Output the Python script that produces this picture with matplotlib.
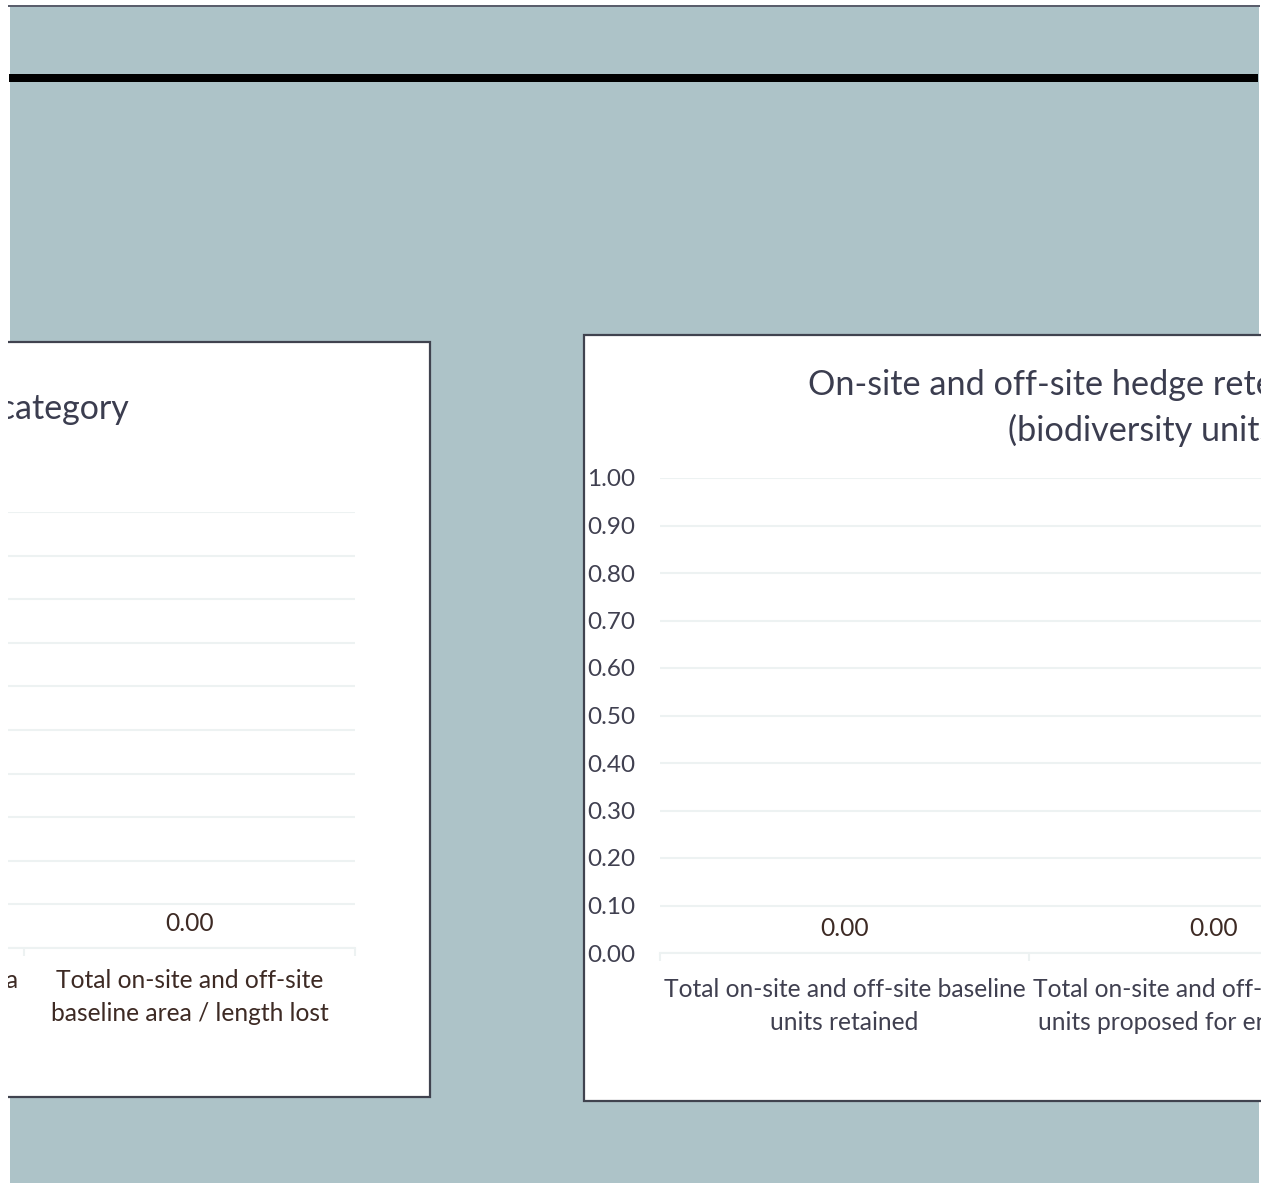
import numpy as np
import matplotlib as mpl
mpl.use('Agg')
import matplotlib.pyplot as plt
from matplotlib.patches import Rectangle

# figure size in pixels
W, H = 1273, 1183

# left chart (only the right part is visible)
left_cats = ['Total on-site and off-site area\nretained', 'Total on-site and off-site\nbaseline area / length lost']
left_vals = [0.0, 0.0]
left_title = 'Baseline by category'

# right chart (only the left part is visible)
right_cats = ['Total on-site and off-site baseline\nunits retained',
              'Total on-site and off-site baseline\nunits proposed for enhancement']
right_vals = [0.0, 0.0]
right_title = ['On-site and off-site hedge retention', '(biodiversity units)']

y_ticks = [0.0, 0.1, 0.2, 0.3, 0.4, 0.5, 0.6, 0.7, 0.8, 0.9, 1.0]

plt.rcParams['font.family'] = ['Lato', 'DejaVu Sans']

bg = '#adc3c8'
frame = '#40434f'
grid_col = '#edf2f2'
tick_col = '#404050'
brown = '#3d2a24'

fig = plt.figure(figsize=(W / 100, H / 100), dpi=100)
fig.patch.set_facecolor('white')


def fx(x):
    return x / W


def fy(y):
    return 1 - y / H


def rect(x0, y0, x1, y1, **kw):
    r = Rectangle((fx(x0), fy(y1)), fx(x1) - fx(x0), fy(y0) - fy(y1),
                  transform=fig.transFigure, **kw)
    fig.patches.append(r)


def axes_px(x0, y0, x1, y1):
    return fig.add_axes([fx(x0), fy(y1), fx(x1) - fx(x0), fy(y0) - fy(y1)])


# sheet background
rect(10, 6, 1259, H + 5, facecolor=bg, edgecolor='none', zorder=-5)
rect(8, 4.5, 1260, 6.5, facecolor='#5a5e6c', edgecolor='none', zorder=-4)
rect(9, 74, 1258, 82, facecolor='black', edgecolor='none', zorder=-4)

# chart boxes
rect(-20, 342, 430, 1097, facecolor='white', edgecolor=frame, lw=1.6, zorder=-3)
rect(584, 335, 1300, 1101, facecolor='white', edgecolor=frame, lw=1.6, zorder=-3)


def style_axes(ax, cats, vals, label_col, tick_pad):
    n = len(cats)
    x = np.arange(n)
    ax.bar(x, vals, 0.6, color='#5b9bd5')
    ax.set_xlim(-0.5, n - 0.5)
    ax.set_ylim(0, 1)
    ax.set_facecolor('none')
    ax.set_yticks(y_ticks)
    ax.set_yticklabels(['%.2f' % v for v in y_ticks])
    ax.grid(axis='y', color=grid_col, lw=1.5)
    ax.set_axisbelow(True)
    for s in ['top', 'right', 'left']:
        ax.spines[s].set_visible(False)
    ax.spines['bottom'].set_color(grid_col)
    ax.spines['bottom'].set_linewidth(1.5)
    ax.set_xticks(x)
    ax.set_xticklabels(cats, fontsize=17.7, color=label_col, linespacing=1.52)
    ax.set_xticks(np.arange(n + 1) - 0.5, minor=True)
    ax.tick_params(axis='x', which='major', length=0, pad=tick_pad)
    ax.tick_params(axis='x', which='minor', length=6, color=grid_col, width=1.5)
    ax.tick_params(axis='y', length=0, labelsize=17.5, labelcolor=tick_col, pad=18)
    for xi, v in zip(x, vals):
        ax.annotate('%.2f' % v, (xi, v), xytext=(0, 17.5), textcoords='offset points',
                    ha='center', va='center', fontsize=17.7, color=brown)


# left chart
axl = axes_px(24 - 331, 512, 355, 948)
style_axes(axl, left_cats, left_vals, brown, 15)
fig.text(fx(129), fy(409), left_title, ha='right', va='center', fontsize=24.5, color='#3b3d4f')

# right chart
axr = axes_px(660, 478, 660 + 369 * 2, 953)
style_axes(axr, right_cats, right_vals, tick_col, 18)
fig.text(fx(808), fy(385), right_title[0], ha='left', va='center', fontsize=24.7, color='#3b3d4f')
fig.text(fx(1008), fy(430), right_title[1], ha='left', va='center', fontsize=24.7, color='#3b3d4f')

# white page margins over everything
rect(-5, -5, 8, H + 5, facecolor='white', edgecolor='none', zorder=20)
rect(1261, -5, W + 5, H + 5, facecolor='white', edgecolor='none', zorder=20)
rect(-5, -5, W + 5, 4.5, facecolor='white', edgecolor='none', zorder=20)

fig.savefig('out.png', dpi=100)
